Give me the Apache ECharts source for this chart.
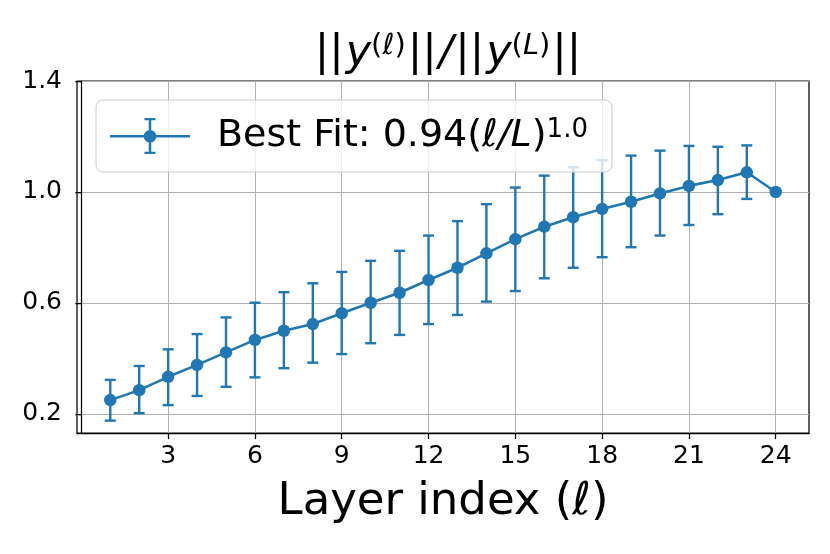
<!DOCTYPE html>
<html>
<head>
<meta charset="utf-8">
<script src="https://cdn.jsdelivr.net/npm/echarts@6/dist/echarts.min.js"></script>
<style>html,body{margin:0;padding:0;background:#fff}#c{width:830px;height:554px}</style>
</head>
<body>
<div id="c"></div>
<script>
var layers = [1,2,3,4,5,6,7,8,9,10,11,12,13,14,15,16,17,18,19,20,21,22,23,24];
var ratio = [0.250,0.286,0.334,0.377,0.422,0.467,0.500,0.524,0.563,0.601,0.637,0.683,0.727,0.779,0.830,0.875,0.909,0.939,0.965,0.995,1.022,1.043,1.071,1.000];
var errLow = [0.176,0.203,0.232,0.265,0.298,0.332,0.365,0.385,0.416,0.455,0.485,0.524,0.557,0.605,0.643,0.689,0.727,0.765,0.801,0.843,0.881,0.920,0.975,1.000];
var errHigh = [0.323,0.373,0.433,0.488,0.548,0.601,0.639,0.671,0.712,0.752,0.788,0.843,0.895,0.956,1.016,1.059,1.089,1.115,1.131,1.149,1.166,1.163,1.168,1.000];
var xTicks = [3,6,9,12,15,18,21,24];
var yTicks = [0.2,0.6,1.0,1.4];
var seriesName = 'Best Fit';

var blue = '#1f77b4';
var font = 'DejaVu Sans';
var lineData = layers.map(function(x,i){return [x, ratio[i]];});
var errData = layers.map(function(x,i){return [x, errLow[i], errHigh[i]];});

var legendIcon = 'path://M0,19L80,19L80,21.5L0,21.5Z' +
  'M38.75,3L41.25,3L41.25,37L38.75,37Z' +
  'M34.5,2L45.5,2L45.5,4.2L34.5,4.2Z' +
  'M34.5,35.8L45.5,35.8L45.5,38L34.5,38Z' +
  'M46.3,20.25A6.3,6.3 0 1 1 33.7,20.25A6.3,6.3 0 1 1 46.3,20.25Z';

var chart = echarts.init(document.getElementById('c'), null, {renderer:'canvas'});
chart.setOption({
  animation: false,
  backgroundColor: '#fff',
  title: {
    text: '{b|||}{i|y}{s|(}{si|ℓ}{s|)}{b|||}{i|/}{b|||}{i|y}{s|(}{si|L}{s|)}{b|||}',
    left: 443, top: 27, textAlign: 'center',
    textStyle: {
      fontWeight: 'normal',
      rich: {
        b: {fontFamily: font, fontSize: 43, fontWeight: 'normal', color: '#000', verticalAlign: 'bottom', padding: [0,2,0,2]},
        i: {fontFamily: font, fontSize: 43, fontWeight: 'normal', fontStyle: 'italic', color: '#000', verticalAlign: 'bottom'},
        s: {fontFamily: font, fontSize: 29, fontWeight: 'normal', color: '#000', verticalAlign: 'top'},
        si: {fontFamily: font, fontSize: 29, fontWeight: 'normal', fontStyle: 'italic', color: '#000', verticalAlign: 'top'}
      }
    }
  },
  legend: {
    data: [seriesName],
    left: 96, top: 100,
    padding: [17, 24, 17, 14],
    itemWidth: 80, itemHeight: 41,
    icon: legendIcon,
    borderColor: '#cccccc', borderWidth: 1, borderRadius: 7,
    backgroundColor: 'rgba(255,255,255,0.8)',
    formatter: function(){ return '{n|Best Fit: 0.94(}{i|ℓ/L}{n|)}{s|1.0}'; },
    textStyle: {
      padding: [0,0,0,22],
      rich: {
        n: {fontFamily: font, fontSize: 38, color: '#000', verticalAlign: 'bottom'},
        i: {fontFamily: font, fontSize: 38, fontStyle: 'italic', color: '#000', verticalAlign: 'bottom'},
        s: {fontFamily: font, fontSize: 26, color: '#000', verticalAlign: 'top'}
      }
    }
  },
  grid: {
    left: 77, right: 21, top: 81, bottom: 121,
    show: true, borderColor: '#000', borderWidth: 1.25, backgroundColor: 'transparent'
  },
  xAxis: {
    type: 'value', min: -0.15, max: 25.15,
    name: 'Layer index (ℓ)', nameLocation: 'middle', nameGap: 47,
    nameTextStyle: {fontFamily: font, fontSize: 45, color: '#000'},
    axisLine: {show: true, lineStyle: {color: '#000', width: 1.25}},
    axisTick: {show: true, inside: false, length: 6, customValues: xTicks, lineStyle: {color: '#000', width: 1.25}},
    axisLabel: {customValues: xTicks, fontFamily: font, fontSize: 25, color: '#000', margin: 11},
    splitLine: {show: true, lineStyle: {color: '#b0b0b0', width: 1}}
  },
  yAxis: {
    type: 'value', min: 0.1315, max: 1.4,
    axisLine: {show: true, lineStyle: {color: '#000', width: 1.25}},
    axisTick: {show: true, inside: false, length: 6, customValues: yTicks, lineStyle: {color: '#000', width: 1.25}},
    axisLabel: {customValues: yTicks, fontFamily: font, fontSize: 25, color: '#000', margin: 15,
      formatter: function(v){ return v.toFixed(1); }},
    splitLine: {show: true, lineStyle: {color: '#b0b0b0', width: 1}}
  },
  series: [
    {
      type: 'custom', name: 'err', z: 2, silent: true,
      data: errData,
      renderItem: function(params, api){
        var x = api.value(0), lo = api.value(1), hi = api.value(2);
        if (hi - lo < 1e-9) return null;
        var p1 = api.coord([x, lo]), p2 = api.coord([x, hi]);
        var st = {stroke: blue, lineWidth: 2.4};
        return {type: 'group', children: [
          {type: 'line', shape: {x1: p1[0], y1: p1[1], x2: p2[0], y2: p2[1]}, style: st},
          {type: 'line', shape: {x1: p1[0]-5.5, y1: p1[1], x2: p1[0]+5.5, y2: p1[1]}, style: st},
          {type: 'line', shape: {x1: p2[0]-5.5, y1: p2[1], x2: p2[0]+5.5, y2: p2[1]}, style: st}
        ]};
      }
    },
    {
      type: 'line', name: seriesName, z: 3,
      data: lineData,
      symbol: 'circle', symbolSize: 12.5,
      lineStyle: {color: blue, width: 2.6},
      itemStyle: {color: blue}
    }
  ]
});
</script>
</body>
</html>
